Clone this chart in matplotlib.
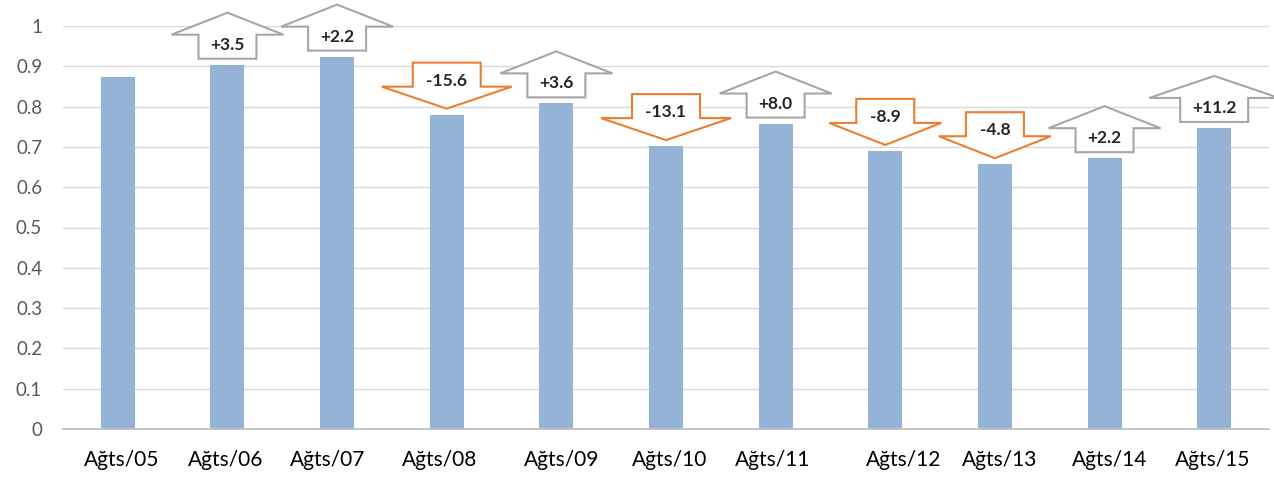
import matplotlib
matplotlib.use('Agg')
import matplotlib.pyplot as plt
import numpy as np
from matplotlib.patches import Polygon
from matplotlib.transforms import ScaledTranslation

plt.rcParams['font.family'] = ['Lato', 'DejaVu Sans']

categories = ['Ağts/05', 'Ağts/06', 'Ağts/07', 'Ağts/08', 'Ağts/09', 'Ağts/10',
              'Ağts/11', 'Ağts/12', 'Ağts/13', 'Ağts/14', 'Ağts/15']
values = [0.873, 0.904, 0.924, 0.780, 0.808, 0.702, 0.758, 0.690, 0.657, 0.672, 0.747]
changes = [None, 3.5, 2.2, -15.6, 3.6, -13.1, 8.0, -8.9, -4.8, 2.2, 11.2]
yticks = [0, 0.1, 0.2, 0.3, 0.4, 0.5, 0.6, 0.7, 0.8, 0.9, 1.0]
ytick_labels = ['0', '0.1', '0.2', '0.3', '0.4', '0.5', '0.6', '0.7', '0.8', '0.9', '1']

# small horizontal shifts (pixels) of the category labels, as in the reference
label_shift_px = [4, -2, -9, -7, 5, 4, -3, 18, 5, 5, -2]

DPI = 100
W, H = 1274, 479
fig = plt.figure(figsize=(W / DPI, H / DPI), dpi=DPI)
fig.patch.set_facecolor('white')
ax = fig.add_axes([63 / W, 50 / H, 1206 / W, 403 / H])

x = np.arange(len(categories))
ax.bar(x, values, width=0.31, color='#95B3D7', zorder=2)

px_per_cat = 1206 / len(categories)

for xi, v, ch in zip(x, values, changes):
    if ch is None:
        continue
    text = f'{ch:+.1f}'
    wide = len(text) > 4
    ws = 68 if wide else 58
    wh = 130 if wide else 112
    if ch > 0:
        pts = [(-ws / 2, 6), (ws / 2, 6), (ws / 2, 30), (wh / 2, 30), (0, 52),
               (-wh / 2, 30), (-ws / 2, 30)]
        ec = '#A6A6A6'
        ty = 20
    else:
        pts = [(0, 6), (wh / 2, 28), (ws / 2, 28), (ws / 2, 52), (-ws / 2, 52),
               (-ws / 2, 28), (-wh / 2, 28)]
        ec = '#ED7D31'
        ty = 34
    tr = fig.dpi_scale_trans + ScaledTranslation(xi, v, ax.transData)
    poly = Polygon([(px / DPI, py / DPI) for px, py in pts], closed=True,
                   transform=tr, facecolor='white', edgecolor=ec, lw=1.5,
                   zorder=4, clip_on=False, joinstyle='miter')
    ax.add_artist(poly)
    ax.annotate(text, xy=(xi, v), xytext=(0, ty * 72 / DPI), textcoords='offset points',
                ha='center', va='center', fontsize=12.5, fontweight='bold',
                color='#262626', zorder=5, annotation_clip=False)

ax.set_xlim(-0.5, len(categories) - 0.5)
ax.set_ylim(0, 1)
ax.set_yticks(yticks)
ax.set_yticklabels(ytick_labels)
ax.set_xticks(x + np.array(label_shift_px) / px_per_cat)
ax.set_xticklabels(categories)

ax.yaxis.grid(True, color='#D9D9D9', lw=1)
ax.set_axisbelow(True)
for s in ['left', 'right', 'top']:
    ax.spines[s].set_visible(False)
ax.spines['bottom'].set_color('#BFBFBF')
ax.spines['bottom'].set_linewidth(1.3)
ax.tick_params(axis='y', length=0, pad=15, labelsize=13.5, labelcolor='#595959')
ax.tick_params(axis='x', length=0, pad=15, labelsize=15, labelcolor='#000000')

fig.savefig('out.png', dpi=DPI, facecolor='white')
